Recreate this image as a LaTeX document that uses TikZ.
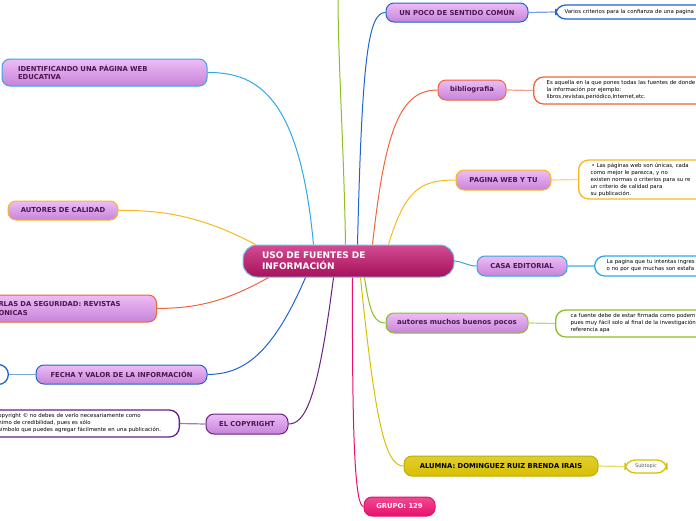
\documentclass[tikz,border=0pt]{standalone}
\usepackage{fontspec}
\setmainfont{DejaVu Sans}
\usepackage{xcolor}
\usetikzlibrary{positioning}

\definecolor{cBlue}{HTML}{1E64D2}
\definecolor{cSky}{HTML}{2EA8E6}
\definecolor{cOrange}{HTML}{F0643C}
\definecolor{cAmber}{HTML}{F8B820}
\definecolor{cGreen}{HTML}{8CC020}
\definecolor{cYellow}{HTML}{D8C000}
\definecolor{cPink}{HTML}{E8106E}
\definecolor{cPurple}{HTML}{6A2080}
\definecolor{lilacTop}{HTML}{EEBCF6}
\definecolor{lilacBot}{HTML}{C684D8}
\definecolor{topicText}{HTML}{4A1650}
\definecolor{mainTop}{HTML}{D24C92}
\definecolor{mainBot}{HTML}{A6105A}

\tikzset{
  mainidea/.style={rounded corners=14pt, draw=cSky!70!white, line width=1pt,
    top color=mainTop, bottom color=mainBot, text=white, align=left,
    font=\fontsize{9}{11}\selectfont\bfseries},
  topic/.style={rounded corners=8pt, draw=#1, line width=1pt,
    top color=lilacTop, bottom color=lilacBot, text=topicText,
    font=\fontsize{6.8}{8.5}\selectfont\bfseries, inner sep=0pt},
  sub/.style={rounded corners=10pt, draw=#1, line width=1.3pt, fill=white,
    align=left, font=\fontsize{5.4}{7}\selectfont, inner ysep=2pt},
  link/.style={draw=#1, line width=1pt},
  twig/.style={draw=#1!60!white, line width=1.2pt}
}

\begin{document}
\begin{tikzpicture}[x=1pt,y=-1pt]
\useasboundingbox (0,0) rectangle (696,520);

% central idea
\node[mainidea, minimum width=211pt, minimum height=32pt, inner xsep=19pt, text width=173pt] (uso) at (348.5,261) {USO DE FUENTES DE\\INFORMACIÓN};

% right side
\node[topic=cBlue, minimum width=142pt, minimum height=19pt] (sentido) at (457,12.5) {UN POCO DE SENTIDO COMÚN};
\node[topic=cOrange, minimum width=68pt, minimum height=20pt] (biblio) at (472,90) {bibliografia};
\node[topic=cAmber, minimum width=95pt, minimum height=20pt] (pagina) at (503.5,180) {PAGINA WEB Y TU};
\node[topic=cSky, minimum width=90pt, minimum height=20pt] (casa) at (522,266) {CASA EDITORIAL};
\node[topic=cGreen, minimum width=142pt, minimum height=20pt, font=\fontsize{7}{8.5}\selectfont\bfseries] (autores) at (457,323) {autores muchos buenos pocos};
\node[rounded corners=8pt, draw=cYellow!90!black, line width=1pt, top color=cYellow!80!white, bottom color=cYellow, font=\fontsize{6.8}{8.5}\selectfont\bfseries, minimum width=194pt, minimum height=20pt] (alumna) at (501,466) {ALUMNA: DOMINGUEZ RUIZ BRENDA IRAIS};
\node[rounded corners=8pt, draw=cPink, line width=1pt, top color=cPink!75!white, bottom color=cPink, text=white, font=\fontsize{6.8}{8.5}\selectfont\bfseries, minimum width=71pt, minimum height=19pt] (grupo) at (399.5,506.5) {GRUPO: 129};

% left side
\node[topic=cSky, minimum height=27pt, inner xsep=16pt, text width=173pt, align=left] (ident) at (104.5,72.5) {IDENTIFICANDO UNA PÁGINA WEB\\EDUCATIVA};
\node[topic=cAmber, minimum width=110pt, minimum height=19pt] (calidad) at (63,210.5) {AUTORES DE CALIDAD};
\node[topic=cOrange, minimum height=27pt, inner xsep=12pt, text width=146pt, align=left, anchor=east] (reglas) at (157,308.5) {RLAS DA SEGURIDAD: REVISTAS\\ONICAS};
\node[topic=cBlue, minimum width=171pt, minimum height=19pt] (fecha) at (121.5,374.5) {FECHA Y VALOR DE LA INFORMACIÓN};
\node[topic=cPurple, minimum width=82pt, minimum height=20pt] (copy) at (247,424) {EL COPYRIGHT};

% subtopics
\node[sub=cBlue, anchor=west, minimum height=14pt, inner xsep=9pt, text width=160pt] (s1) at (555,12) {Varios criterios para la confianza de una pagina};
\node[sub=cOrange, anchor=west, minimum height=27pt, inner xsep=13pt, text width=190pt] (s2) at (533,90.5) {Es aquella en la que pones todas las fuentes de donde\\la información por ejemplo:\\libros,revistas,periódico,Internet,etc.};
\node[sub=cAmber, anchor=west, minimum height=39pt, inner xsep=12pt, text width=140pt] (s3) at (578,179.5) {\,• Las páginas web son únicas, cada\\como mejor le parezca, y no\\existen normas o criterios para su re\\un criterio de calidad para\\su publicación.};
\node[sub=cSky, anchor=west, minimum height=20pt, inner xsep=12pt, text width=120pt] (s4) at (594,266) {La pagina que tu intentas ingres\\o no por que muchas son estafa};
\node[sub=cGreen, anchor=west, minimum height=27pt, inner xsep=15pt, text width=170pt] (s5) at (555,323.5) {ca fuente debe de estar firmada como podem\\pues muy fácil solo al final de la investigación\\referencia apa};
\node[sub=cYellow, minimum width=42pt, minimum height=13pt, inner sep=0pt, text=black!65, font=\fontsize{5}{6}\selectfont] (s6) at (646,466.5) {Subtopic};
\node[sub=cBlue, anchor=east, minimum width=40pt, minimum height=20pt] (s7) at (9,374.5) {};
\node[sub=cPurple, anchor=east, minimum height=27pt, inner xsep=13pt, text width=168pt] (s8) at (180,423.5) {opyright © no debes de verlo necesariamente como\\nimo de credibilidad, pues es sólo\\símbolo que puedes agregar fácilmente en una publicación.};

% branch that leaves the page at the top
\coordinate (offtop) at (338,-5);

% connectors from the central idea
\draw[link=cGreen] ([xshift=-3pt]uso.north) .. controls (344,150) and (338,60) .. (offtop);
\draw[link=cBlue] ([xshift=9pt]uso.north) .. controls (362,60) and (368,12) .. (sentido.west);
\draw[link=cOrange] ([xshift=24pt]uso.north) .. controls (385,130) and (400,90) .. (biblio.west);
\draw[link=cAmber] ([xshift=40pt]uso.north) .. controls (405,190) and (420,180) .. (pagina.west);
\draw[link=cSky] (uso.east) .. controls (464,262) and (468,266) .. (casa.west);
\draw[link=cGreen] ([xshift=16pt]uso.south) .. controls (370,315) and (375,323) .. (autores.west);
\draw[link=cYellow] ([xshift=12pt]uso.south) .. controls (375,420) and (385,466) .. (alumna.west);
\draw[link=cPink] ([xshift=4pt]uso.south) .. controls (352,440) and (355,506) .. (grupo.west);
\draw[link=cPurple] ([xshift=-15pt]uso.south) .. controls (318,400) and (305,424) .. (copy.east);
\draw[link=cBlue] ([xshift=-43pt]uso.south) .. controls (270,360) and (240,374) .. (fecha.east);
\draw[link=cOrange] ([xshift=-80pt]uso.south) .. controls (220,305) and (190,308) .. (reglas.east);
\draw[link=cAmber] ([xshift=-93pt]uso.north) .. controls (200,215) and (160,210) .. (calidad.east);
\draw[link=cSky] ([xshift=-35pt]uso.north) .. controls (300,100) and (260,72) .. (ident.east);

% topic to subtopic
\draw[twig=cBlue] (sentido.east) -- (s1.west);
\draw[twig=cOrange] (biblio.east) -- (s2.west);
\draw[twig=cAmber] (pagina.east) -- (s3.west);
\draw[twig=cSky] (casa.east) -- (s4.west);
\draw[twig=cGreen] (autores.east) -- (s5.west);
\draw[twig=cYellow] (alumna.east) -- (s6.west);
\draw[twig=cBlue] (fecha.west) -- (s7.east);
\draw[twig=cPurple] (copy.west) -- (s8.east);
\end{tikzpicture}
\end{document}
